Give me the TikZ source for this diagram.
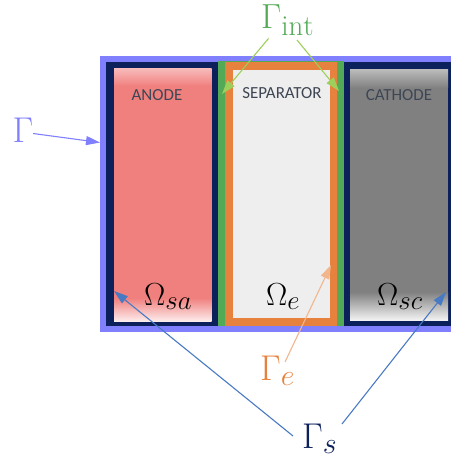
\documentclass[tikz,border=0pt]{standalone}
\usepackage{fix-cm}
\usepackage{fontspec}
\newfontfamily\regionfont{Carlito}
\usetikzlibrary{arrows.meta}
\DeclareMathSizes{32}{32}{27}{20}
\DeclareMathSizes{36}{36}{30}{22}
\DeclareMathSizes{35}{35}{29}{21}
\definecolor{rimblue}{RGB}{128,128,255}
\definecolor{wallnavy}{RGB}{12,32,92}
\definecolor{intgreen}{RGB}{82,170,86}
\definecolor{sepgray}{RGB}{238,238,238}
\definecolor{sepwall}{RGB}{230,130,62}
\definecolor{anodered}{RGB}{240,128,126}
\definecolor{cathgray}{RGB}{128,128,128}
\definecolor{labelgray}{RGB}{62,70,84}
\definecolor{intarrow}{RGB}{158,206,92}
\definecolor{earrow}{RGB}{242,182,142}
\definecolor{sarrow}{RGB}{72,122,196}
\begin{document}
\begin{tikzpicture}[x=1bp,y=-1bp,
  region/.style={font=\regionfont\fontsize{17}{17}\selectfont, text=labelgray, inner sep=0pt},
  omegalabel/.style={font=\fontsize{32}{32}\selectfont, anchor=base west, inner sep=0pt},
  gammalabel/.style={font=\fontsize{36}{36}\selectfont, anchor=base west, inner sep=0pt},
  pointer/.style={-{Triangle[length=14bp,width=9bp]}, line width=1.1bp}]
  \useasboundingbox (0,0) rectangle (451,464);
  \clip (0,0) rectangle (451,464);
  % frames
  \fill[rimblue] (100,56.5) rectangle (462,332);
  \fill[wallnavy] (106,62.5) rectangle (456,326);
  \fill[intgreen] (218,61) rectangle (343.5,326);
  \fill[sepwall] (225,62.5) rectangle (337,326);
  % anode
  \fill[anodered] (114,69) rectangle (211.5,321);
  \shade[top color=anodered!55!white, bottom color=anodered] (114,69) rectangle (211.5,86);
  \shade[top color=anodered, bottom color=anodered!15!white] (114,298) rectangle (211.5,321);
  % separator
  \fill[sepgray] (233,70.5) rectangle (330,317.5);
  % cathode
  \fill[cathgray] (350,70) rectangle (448,320);
  \shade[top color=cathgray!55!white, bottom color=cathgray] (350,70) rectangle (448,88);
  \shade[top color=cathgray, bottom color=cathgray!10!white] (350,292) rectangle (448,320);
  % region names
  \node[region] (anode) at (157,95) {ANODE};
  \node[region] (sep) at (282,93) {SEPARATOR};
  \node[region] (cathode) at (399,95) {CATHODE};
  \node[omegalabel] (omsa) at (144,305) {$\Omega_{sa}$};
  \node[omegalabel] (ome) at (266,305) {$\Omega_e$};
  \node[omegalabel] (omsc) at (377,305) {$\Omega_{sc}$};
  % boundary labels
  \node[gammalabel, text=rimblue] (gam) at (12.5,143) {$\Gamma$};
  \node[gammalabel, text=intgreen, font=\fontsize{35}{35}\selectfont] (gamint) at (261,29) {$\Gamma_{\mathrm{int}}$};
  \node[gammalabel, text=sepwall] (game) at (260,380) {$\Gamma_e$};
  \node[gammalabel, text=wallnavy] (gams) at (302,448) {$\Gamma_s$};
  % arrow ends
  \coordinate (gamfrom) at (33,133.5);
  \coordinate (gamto) at (100,142.5);
  \coordinate (intfromL) at (268.5,38.5);
  \coordinate (inttoL) at (222,94);
  \coordinate (intfromR) at (297,40);
  \coordinate (inttoR) at (339,91);
  \coordinate (efrom) at (285,362);
  \coordinate (eto) at (331,265);
  \coordinate (sfromL) at (293,436);
  \coordinate (stoL) at (114,291);
  \coordinate (sfromR) at (342,424);
  \coordinate (stoR) at (446,292);
  % arrows
  \draw[pointer, rimblue] (gamfrom) -- (gamto);
  \draw[pointer, intarrow] (intfromL) -- (inttoL);
  \draw[pointer, intarrow] (intfromR) -- (inttoR);
  \draw[pointer, earrow] (efrom) -- (eto);
  \draw[pointer, sarrow] (sfromL) -- (stoL);
  \draw[pointer, sarrow] (sfromR) -- (stoR);
\end{tikzpicture}
\end{document}
